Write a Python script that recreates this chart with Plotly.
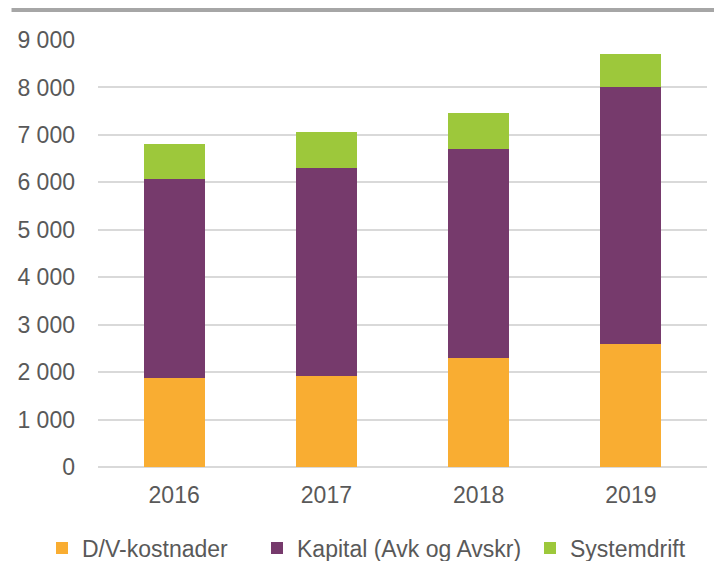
import plotly.graph_objects as go

aar = ["2016", "2017", "2018", "2019"]
dv_kostnader = [1880, 1920, 2290, 2590]
kapital = [4190, 4380, 4410, 5420]
systemdrift = [730, 760, 760, 690]

farge_dv = "#F9AD32"
farge_kap = "#763A6C"
farge_sys = "#9DC83B"
tekst = "#595959"

fig = go.Figure()
fig.add_trace(go.Bar(x=aar, y=dv_kostnader, name="D/V-kostnader", legend="legend",
                     marker=dict(color=farge_dv, line=dict(width=0))))
fig.add_trace(go.Bar(x=aar, y=kapital, name="Kapital (Avk og Avskr)", legend="legend2",
                     marker=dict(color=farge_kap, line=dict(width=0))))
fig.add_trace(go.Bar(x=aar, y=systemdrift, name="Systemdrift", legend="legend3",
                     marker=dict(color=farge_sys, line=dict(width=0))))


def forklaring(x):
    # en egen forklaring per serie, plassert i piksler langs bunnen
    return dict(orientation="h", xref="container", x=x / 714, xanchor="left",
                yref="container", y=1 - 548 / 561, yanchor="middle",
                font=dict(size=23, color=tekst), itemwidth=30,
                bgcolor="rgba(0,0,0,0)")


fig.update_layout(
    width=714, height=561,
    barmode="stack", bargap=0.6,
    separators=", ",
    showlegend=True,
    plot_bgcolor="white", paper_bgcolor="white",
    font=dict(family="Liberation Sans, Arial", size=23, color=tekst),
    margin=dict(l=98, r=7, t=40, b=94, autoexpand=False),
    legend=forklaring(42),
    legend2=forklaring(257),
    legend3=forklaring(530),
    yaxis=dict(range=[0, 9000], dtick=1000, tickformat=",d", showgrid=True,
               gridcolor="#D9D9D9", gridwidth=1.5, zeroline=True, zerolinecolor="#D9D9D9",
               zerolinewidth=1.5, ticks="", ticklabelstandoff=22),
    xaxis=dict(showgrid=False, ticks="", showline=False, ticklabelstandoff=12),
    shapes=[dict(type="line", xref="paper", yref="paper", x0=-0.142, x1=1.02,
                 y0=1.0 + 30 / 427, y1=1.0 + 30 / 427,
                 line=dict(color="#A6A6A6", width=4))],
)

# fjern standardmarg rundt body slik at figuren fyller vinduet
fig.write_html("out.html", config=dict(displayModeBar=False),
               post_script="document.body.style.margin='0px';")
